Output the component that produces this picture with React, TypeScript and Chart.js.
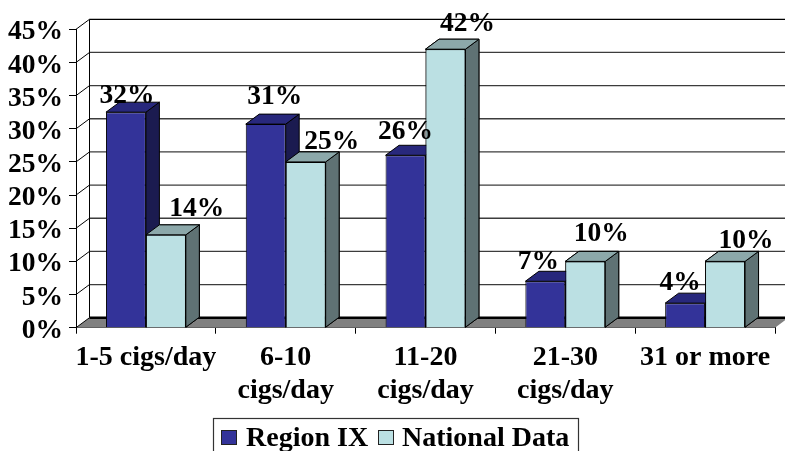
import React, { useEffect, useRef } from "react";
import { Chart, registerables } from "chart.js";

Chart.register(...registerables);

const categories = [["1-5 cigs/day"], ["6-10", "cigs/day"], ["11-20", "cigs/day"], ["21-30", "cigs/day"], ["31 or more"]];
const seriesNames = ["Region IX", "National Data"];
const regionValues = [32.5, 30.7, 26, 7, 3.7];
const nationalValues = [14, 25, 42, 10, 10];
const regionLabels = ["32%", "31%", "26%", "7%", "4%"];
const nationalLabels = ["14%", "25%", "42%", "10%", "10%"];

const FONT = '"Liberation Serif", "Times New Roman", serif';
const DX = 13.5;
const DY = 10;
const faces = [
  { front: "#333399", top: "#28287c", side: "#1b1b50" },
  { front: "#bbe0e3", top: "#8ca8aa", side: "#5f7274" },
];
// label placement relative to the bar's top-centre (dx, dy)
const labelNudge = [
  [[1, -9], [9, -20], [0, -16], [-7, -12], [-5, -13]],
  [[31, -19], [26, -13], [22, -18], [16, -20], [21, -13]],
];

function drawFaces(ctx: any, meta: any, index: number) {
  const c = faces[index];
  ctx.save();
  ctx.strokeStyle = "#000";
  ctx.lineWidth = 1;
  meta.data.forEach((bar: any) => {
    const { x, y, base, width } = bar.getProps(["x", "y", "base", "width"], true);
    const l = x - width / 2;
    const r = x + width / 2;
    ctx.fillStyle = c.side;
    ctx.beginPath();
    ctx.moveTo(r, y);
    ctx.lineTo(r + DX, y - DY);
    ctx.lineTo(r + DX, base - DY);
    ctx.lineTo(r, base);
    ctx.closePath();
    ctx.fill();
    ctx.stroke();
    ctx.fillStyle = c.top;
    ctx.beginPath();
    ctx.moveTo(l, y);
    ctx.lineTo(l + DX, y - DY);
    ctx.lineTo(r + DX, y - DY);
    ctx.lineTo(r, y);
    ctx.closePath();
    ctx.fill();
    ctx.stroke();
  });
  ctx.restore();
}

const threeD = {
  id: "threeD",
  beforeDatasetsDraw(chart: any) {
    const { ctx, chartArea: a, scales } = chart;
    const y = scales.y;
    const base = y.getPixelForValue(0);
    ctx.save();
    // floor
    ctx.fillStyle = "#808080";
    ctx.beginPath();
    ctx.moveTo(a.left, base);
    ctx.lineTo(a.right, base);
    ctx.lineTo(a.right + DX, base - DY);
    ctx.lineTo(a.left + DX, base - DY);
    ctx.closePath();
    ctx.fill();
    // walls and grid
    y.ticks.forEach((t: any) => {
      const p = y.getPixelForValue(t.value);
      ctx.lineWidth = t.value === 0 ? 2.5 : 1.3;
      ctx.strokeStyle = t.value === 0 || t.value === 45 ? "#000" : "#3c3c3c";
      ctx.beginPath();
      ctx.moveTo(a.left + DX, p - DY);
      ctx.lineTo(a.right + DX, p - DY);
      ctx.stroke();
      ctx.lineWidth = 1;
      ctx.strokeStyle = "#000";
      ctx.beginPath();
      ctx.moveTo(a.left, p);
      ctx.lineTo(a.left + DX, p - DY);
      ctx.stroke();
    });
    ctx.strokeStyle = "#000";
    ctx.lineWidth = 1;
    ctx.beginPath();
    ctx.moveTo(a.left + DX, y.getPixelForValue(45) - DY);
    ctx.lineTo(a.left + DX, base - DY);
    ctx.stroke();
    ctx.restore();
  },
  beforeDatasetDraw(chart: any, args: any) {
    drawFaces(chart.ctx, args.meta, args.index);
  },
  afterDatasetDraw(chart: any, args: any) {
    // National bars stand in front of the Region IX bars' side faces
    if (args.index === 0) {
      const meta = chart.getDatasetMeta(1);
      drawFaces(chart.ctx, meta, 1);
      meta.data.forEach((bar: any) => bar.draw(chart.ctx));
    }
  },
  afterDatasetsDraw(chart: any) {
    const { ctx } = chart;
    ctx.save();
    ctx.fillStyle = "#000";
    ctx.font = `bold 27.5px ${FONT}`;
    ctx.textAlign = "center";
    ctx.textBaseline = "alphabetic";
    [regionLabels, nationalLabels].forEach((labels, d) => {
      chart.getDatasetMeta(d).data.forEach((bar: any, i: number) => {
        const { x, y } = bar.getProps(["x", "y"], true);
        const [dx, dy] = labelNudge[d][i];
        ctx.fillText(labels[i], x + dx, y + dy);
      });
    });
    ctx.restore();
  },
  afterDraw(chart: any) {
    const { ctx, scales } = chart;
    ctx.save();
    // value-axis tick labels sit slightly below their tick marks
    ctx.fillStyle = "#000";
    ctx.font = `bold 27.5px ${FONT}`;
    ctx.textAlign = "right";
    ctx.textBaseline = "middle";
    scales.y.ticks.forEach((t: any) => {
      ctx.fillText(t.label, 63, scales.y.getPixelForValue(t.value) + 3);
    });
    ctx.strokeStyle = "#333";
    ctx.lineWidth = 1.2;
    ctx.strokeRect(213.5, 418.5, 365, 40);
    ctx.font = `bold 28px ${FONT}`;
    ctx.textBaseline = "alphabetic";
    ctx.textAlign = "left";
    const entries = [
      { box: 221, text: 246 },
      { box: 378, text: 402 },
    ];
    entries.forEach((e, i) => {
      ctx.fillStyle = faces[i].front;
      ctx.fillRect(e.box, 430, 15.5, 14);
      ctx.strokeStyle = "#222";
      ctx.lineWidth = 1;
      ctx.strokeRect(e.box + 0.5, 430.5, 15, 14);
      ctx.fillStyle = "#000";
      ctx.fillText(chart.data.datasets[i].label, e.text, 446);
    });
    ctx.restore();
  },
};

export default function App() {
  const ref = useRef<HTMLCanvasElement>(null);
  useEffect(() => {
    const chart = new Chart(ref.current as HTMLCanvasElement, {
      type: "bar",
      data: {
        labels: categories as any,
        datasets: [
          { label: seriesNames[0], data: regionValues, backgroundColor: faces[0].front, borderColor: "#000", borderWidth: 1, order: 1 },
          { label: seriesNames[1], data: nationalValues, backgroundColor: faces[1].front, borderColor: "#000", borderWidth: 1, order: 2 },
        ],
      },
      options: {
        animation: false,
        responsive: false,
        devicePixelRatio: 1,
        layout: { padding: { top: 29.3, right: 10, left: 0, bottom: 0 } },
        plugins: { legend: { display: false }, tooltip: { enabled: false } },
        datasets: { bar: { categoryPercentage: 80 / 140, barPercentage: 1 } },
        scales: {
          x: {
            afterFit: (s: any) => { s.height = 123.3; },
            grid: { drawOnChartArea: false, drawTicks: true, tickLength: 6, color: "#000" },
            border: { color: "#000", width: 1 },
            ticks: {
              color: "#000",
              padding: 8,
              maxRotation: 0,
              autoSkip: false,
              font: { family: FONT, size: 28, weight: "bold", lineHeight: 1.17 },
            },
          },
          y: {
            min: 0,
            max: 45,
            afterFit: (s: any) => { s.width = 76; },
            grid: { drawOnChartArea: false, drawTicks: true, tickLength: 7, color: "#000" },
            border: { color: "#000", width: 1 },
            ticks: {
              stepSize: 5,
              autoSkip: false,
              display: false,
              callback: (v: any) => `${v}%`,
            },
          },
        },
      } as any,
      plugins: [threeD],
    });
    return () => chart.destroy();
  }, []);
  return (
    <div style={{ position: "fixed", left: 0, top: 0, width: 785, height: 451, background: "#fff" }}>
      <canvas ref={ref} width={785} height={451} style={{ display: "block" }} />
    </div>
  );
}
